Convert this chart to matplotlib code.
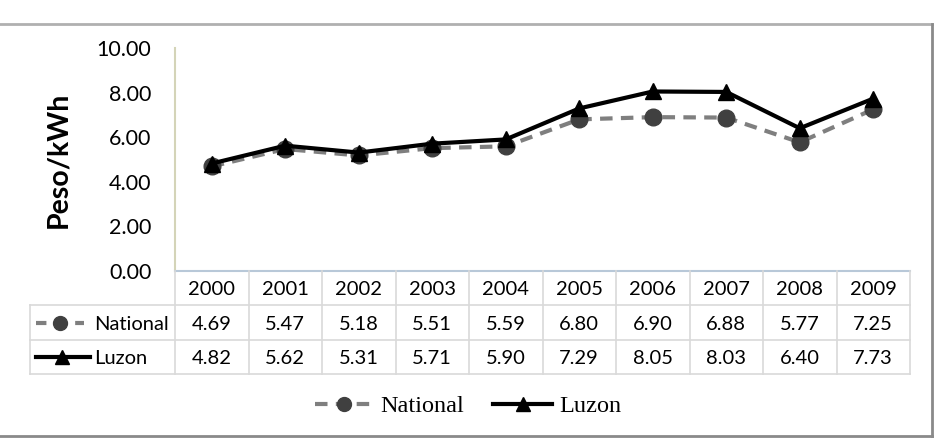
import matplotlib.pyplot as plt
from matplotlib.lines import Line2D
import numpy as np

years = ['2000', '2001', '2002', '2003', '2004', '2005', '2006', '2007', '2008', '2009']
national = [4.69, 5.47, 5.18, 5.51, 5.59, 6.80, 6.90, 6.88, 5.77, 7.25]
luzon = [4.82, 5.62, 5.31, 5.71, 5.90, 7.29, 8.05, 8.03, 6.40, 7.73]
yticks = [0, 2, 4, 6, 8, 10]

W, H = 936, 440
sans = 'Lato'
grid_c = '#d9d9d9'

fig = plt.figure(figsize=(W / 100, H / 100), dpi=100)

def fx(px):
    return px / W

def fy(py):
    return 1 - py / H

# main plot area
ax = fig.add_axes([fx(175), fy(271), fx(910) - fx(175), fy(48) - fy(271)])
x = np.arange(len(years))
nat_style = dict(color='#7f7f7f', lw=3, ls=(0, (3, 2)), marker='o', ms=12,
                 mfc='#404040', mec='#404040')
luz_style = dict(color='black', lw=3, marker='^', ms=12, mfc='black', mec='black')
ax.plot(x, national, **nat_style, zorder=3)
ax.plot(x, luzon, **luz_style, zorder=4)
ax.set_xlim(-0.5, len(years) - 0.5)
ax.set_ylim(0, 10)
ax.set_yticks(yticks)
ax.set_yticklabels([f'{v:.2f}' for v in yticks], fontsize=15.5, family=sans)
ax.set_xticks([])
ax.tick_params(axis='y', length=0, pad=17)
for s in ['top', 'right']:
    ax.spines[s].set_visible(False)
ax.spines['left'].set_color('#d4d4b8')
ax.spines['left'].set_linewidth(1.5)
ax.spines['bottom'].set_visible(False)
ax.set_ylabel('Peso/kWh', fontsize=20.5, fontweight='bold', family=sans, labelpad=18)

# data table below the plot
row_w = 145 / 73.5
tx = fig.add_axes([fx(30), fy(374), fx(910) - fx(30), fy(271) - fy(374)])
tx.set_xlim(-0.5 - row_w, len(years) - 0.5)
tx.set_ylim(3, 0)
tx.axis('off')
left = -0.5 - row_w
right = len(years) - 0.5
tx.plot([-0.5, right], [0, 0], color='#b8c8d8', lw=1.5, clip_on=False)
for yy in [1, 2, 3]:
    tx.plot([left, right], [yy, yy], color=grid_c, lw=1.2, clip_on=False)
tx.plot([left, left], [1, 3], color=grid_c, lw=1.2, clip_on=False)
for i in range(len(years) + 1):
    tx.plot([i - 0.5, i - 0.5], [0, 3], color=grid_c, lw=1.2, clip_on=False)
for i, yr in enumerate(years):
    tx.text(i, 0.55, yr, ha='center', va='center', fontsize=14.5, family=sans)
    tx.text(i, 1.55, f'{national[i]:.2f}', ha='center', va='center', fontsize=14.5, family=sans)
    tx.text(i, 2.55, f'{luzon[i]:.2f}', ha='center', va='center', fontsize=14.5, family=sans)

# row headers with legend keys
px_unit = 73.5
def tcol(px):
    return left + (px - 30) / px_unit
tx.plot([tcol(36), tcol(84)], [1.5, 1.5], color='#7f7f7f', lw=3, ls=(0, (2.5, 2.2)))
tx.plot([tcol(60)], [1.5], 'o', ms=10, mfc='#404040', mec='#404040')
tx.text(tcol(94), 1.55, 'National', ha='left', va='center', fontsize=14.5, family=sans)
tx.plot([tcol(36), tcol(90)], [2.5, 2.5], color='black', lw=3)
tx.plot([tcol(62)], [2.5], '^', ms=10, color='black')
tx.text(tcol(94), 2.55, 'Luzon', ha='left', va='center', fontsize=14.5, family=sans)

# bottom legend
handles = [Line2D([], [], **dict(nat_style, ms=10)), Line2D([], [], **dict(luz_style, ms=10))]
fig.legend(handles, ['National', 'Luzon'], loc='center', bbox_to_anchor=(fx(468), fy(406)),
           ncol=2, frameon=False, prop={'family': 'Liberation Serif', 'size': 17.5},
           handlelength=2.4, handletextpad=0.3, columnspacing=1.2)

# outer frame
fig.add_artist(Line2D([0, fx(932)], [fy(24), fy(24)], color='#b0b0b0', lw=2))
fig.add_artist(Line2D([fx(932), fx(932)], [fy(24), fy(436)], color='#8a8a8a', lw=2))
fig.add_artist(Line2D([0, fx(932)], [fy(436), fy(436)], color='#8a8a8a', lw=2))

fig.savefig('out.png', dpi=100)
